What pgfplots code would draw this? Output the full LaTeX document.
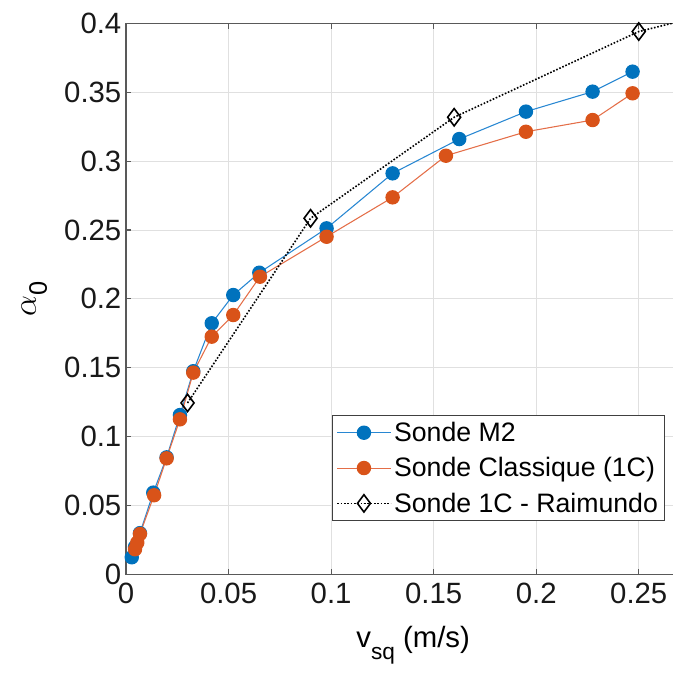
\documentclass[border=0pt]{standalone}
\usepackage{fontspec}
\setmainfont{Liberation Sans}
\usepackage{pgfplots}
\pgfplotsset{compat=1.18}
\definecolor{mblue}{rgb}{0,0.447,0.741}
\definecolor{morange}{rgb}{0.850,0.325,0.098}
\definecolor{lblue}{RGB}{40,135,210}
\definecolor{lorange}{RGB}{228,110,72}
\newcommand{\ff}{\fontsize{22}{26}\selectfont}
\newcommand{\lf}{\fontsize{20}{24}\selectfont}
\begin{document}
\begin{tikzpicture}[x=0.75pt,y=0.75pt]
\begin{axis}[
  at={(0,0)}, anchor=south west,
  scale only axis, width=430.7pt, height=413.4pt,
  xmin=0, xmax=0.28, ymin=0, ymax=0.4,
  xtick={0,0.05,0.1,0.15,0.2,0.25},
  ytick={0,0.05,0.1,0.15,0.2,0.25,0.3,0.35,0.4},
  scaled ticks=false,
  /pgf/number format/assume math mode=true,
  /pgf/number format/fixed,
  /pgf/number format/precision=2,
  tick label style={font=\ff, text=black!90},
  xticklabel style={yshift=-3pt},
  xlabel style={font=\ff, yshift=-10pt},
  ylabel style={font=\ff},
  ylabel shift=6pt,
  grid=major,
  grid style={draw=black!12, line width=0.7pt},
  axis line style={draw=black!65, line width=0.8pt},
  tick style={draw=black!65, line width=0.8pt},
  major tick length=4pt,
  tick align=inside,
  xlabel={v\raisebox{-0.75ex}{\fontsize{17}{17}\selectfont sq} (m/s)},
  ylabel={\fontsize{26}{26}\selectfont$\alpha$\raisebox{-0.6ex}{\fontsize{19}{19}\selectfont 0}},
  legend cell align=left,
  legend style={at={(0.9386,0.2894)}, anchor=north east, draw=black!75, line width=0.6pt,
    font=\lf, fill=white, inner sep=3pt, row sep=6.5pt},
  legend image code/.code={\draw[mark repeat=2,mark phase=2,#1] plot coordinates {(0pt,0pt) (20pt,0pt) (40pt,0pt)};},
]
\addplot[color=lblue, line width=0.8pt, mark=*, mark size=5pt, mark options={fill=mblue, draw=mblue}] coordinates {
(0.0028,0.0125) (0.0044,0.0200) (0.0068,0.0300) (0.0133,0.0594) (0.0198,0.0850)
(0.0263,0.1157) (0.0328,0.1475) (0.0418,0.1823) (0.0523,0.2028) (0.0650,0.2190)
(0.0978,0.2512) (0.1300,0.2911) (0.1625,0.3160) (0.1950,0.3359) (0.2275,0.3504) (0.2470,0.3649)
};
\addlegendentry{Sonde M2}
\addplot[color=lorange, line width=0.8pt, mark=*, mark size=5pt, mark options={fill=morange, draw=morange}] coordinates {
(0.0044,0.0183) (0.0055,0.0231) (0.0068,0.0294) (0.0137,0.0575) (0.0198,0.0843)
(0.0263,0.1126) (0.0328,0.1465) (0.0418,0.1726) (0.0523,0.1883) (0.0653,0.2161)
(0.0978,0.2451) (0.1300,0.2737) (0.1560,0.3039) (0.1950,0.3213) (0.2275,0.3298) (0.2470,0.3492)
};
\addlegendentry{Sonde Classique (1C)}
\addplot[color=black, line width=1.2pt, dash pattern=on 1.2pt off 1.3pt, mark=diamond, mark size=6.5pt, mark options={solid, fill=white, line width=1.2pt}] coordinates {
(0.030,0.1245) (0.090,0.2585) (0.160,0.3318) (0.250,0.3940) (0.320,0.4200)
};
\addlegendentry{Sonde 1C - Raimundo}
\end{axis}
\pgfresetboundingbox
\useasboundingbox (-126,-100.5) rectangle (546,574.5);
\end{tikzpicture}
\end{document}
